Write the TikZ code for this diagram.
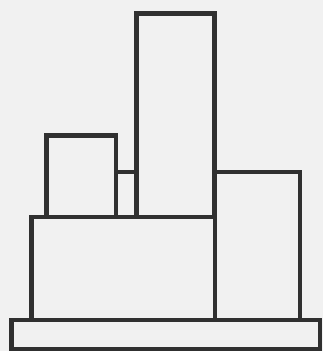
\documentclass[tikz,border=0pt]{standalone}
\begin{document}
\begin{tikzpicture}[x=1pt,y=-1pt,
  part/.style={draw=linec,line width=4.6pt,line join=miter}]
\definecolor{bgc}{RGB}{241,241,241}
\definecolor{linec}{RGB}{48,48,48}
\fill[bgc] (0,0) rectangle (323,351);
\useasboundingbox (0,0) rectangle (323,351);
% base plate
\draw[part] (11.5,320) rectangle (320,348.8);
% large lower block
\draw[part] (31.5,217) rectangle (215,320);
% right block
\draw[part] (215,172) rectangle (300,320);
% tall tower
\draw[part] (136.5,13.5) rectangle (214.5,217);
% small left block
\draw[part] (46.5,135.5) rectangle (116,217);
% connector
\draw[part] (116,172) rectangle (136.5,217);
\end{tikzpicture}
\end{document}
